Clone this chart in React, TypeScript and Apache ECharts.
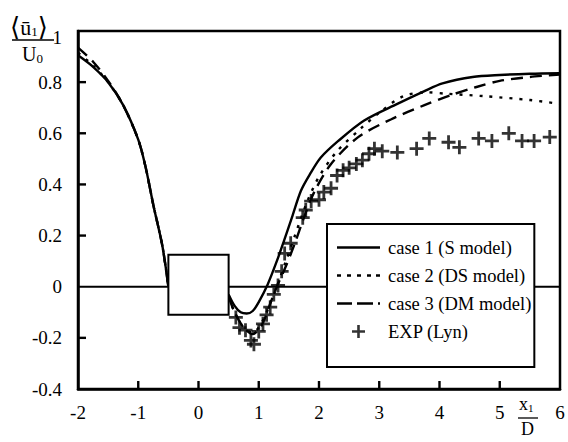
import React, { useEffect, useRef } from 'react';
import * as echarts from 'echarts';

const FONT = '"Liberation Serif", "DejaVu Serif", serif';

const seriesNames = ['case 1 (S model)', 'case 2 (DS model)', 'case 3 (DM model)', 'EXP (Lyn)'];

const xTicks = [-2, -1, 0, 1, 2, 3, 4, 5, 6];
const yTicks = [-0.4, -0.2, 0, 0.2, 0.4, 0.6, 0.8, 1];

// '-' marks the gap hidden behind the square cylinder
const case1: any[] = [
  [-2, 0.905], [-1.75, 0.86], [-1.5, 0.8], [-1.25, 0.71], [-1.0, 0.575], [-0.88, 0.47],
  [-0.75, 0.32], [-0.6, 0.16], [-0.5, 0.0], [0, '-'],
  [0.5, -0.03], [0.6, -0.075], [0.7, -0.1], [0.8, -0.105], [0.9, -0.095], [1.0, -0.06],
  [1.15, 0.01], [1.3, 0.1], [1.42, 0.18], [1.55, 0.27], [1.7, 0.375], [1.85, 0.44],
  [2.03, 0.505], [2.32, 0.57], [2.75, 0.65], [3.3, 0.715], [3.75, 0.765], [4.05, 0.795],
  [4.55, 0.82], [5.0, 0.828], [5.5, 0.833], [6.0, 0.835],
];

const case2: any[] = [
  [-2, 0.915], [-1.75, 0.865], [-1.5, 0.8], [-1.25, 0.71], [-1.0, 0.575], [-0.88, 0.47],
  [-0.75, 0.32], [-0.6, 0.16], [-0.5, 0.0], [0, '-'],
  [0.5, -0.04], [0.6, -0.1], [0.75, -0.16], [0.9, -0.18], [1.05, -0.14], [1.2, -0.06],
  [1.3, 0.0], [1.45, 0.1], [1.6, 0.2], [1.8, 0.33], [2.0, 0.43], [2.3, 0.53],
  [2.7, 0.62], [3.0, 0.68], [3.4, 0.745], [3.8, 0.76], [4.1, 0.755], [4.75, 0.745],
  [5.5, 0.73], [6.0, 0.715],
];

const case3: any[] = [
  [-2, 0.935], [-1.75, 0.88], [-1.5, 0.805], [-1.25, 0.71], [-1.0, 0.575], [-0.88, 0.47],
  [-0.75, 0.32], [-0.6, 0.16], [-0.5, 0.0], [0, '-'],
  [0.5, -0.04], [0.6, -0.1], [0.75, -0.16], [0.9, -0.185], [1.05, -0.15], [1.2, -0.06],
  [1.3, 0.0], [1.45, 0.08], [1.6, 0.17], [1.75, 0.27], [1.92, 0.37], [2.2, 0.48],
  [2.65, 0.585], [3.2, 0.655], [3.75, 0.71], [4.2, 0.75], [4.6, 0.78], [5.0, 0.805],
  [5.5, 0.82], [6.0, 0.83],
];

const expLyn: [number, number][] = [
  [0.62, -0.12], [0.68, -0.16], [0.78, -0.17], [0.87, -0.21], [0.92, -0.225], [1.0, -0.175],
  [1.07, -0.145], [1.13, -0.11], [1.19, -0.08], [1.25, -0.03], [1.32, 0.005], [1.38, 0.06],
  [1.43, 0.13], [1.53, 0.17], [1.73, 0.27], [1.78, 0.3], [1.87, 0.335], [2.0, 0.34],
  [2.08, 0.37], [2.2, 0.385], [2.3, 0.435], [2.4, 0.455], [2.5, 0.465], [2.62, 0.48],
  [2.72, 0.495], [2.83, 0.52], [2.92, 0.54], [3.05, 0.53], [3.3, 0.525], [3.62, 0.54],
  [3.83, 0.58], [4.15, 0.565], [4.33, 0.545], [4.65, 0.58], [4.87, 0.57], [5.15, 0.6],
  [5.37, 0.57], [5.57, 0.57], [5.83, 0.585],
];

// square cylinder: [x0, y0, x1, y1]
const cylinder: number[][] = [[-0.5, -0.11, 0.5, 0.125]];
const zeroLine: [number, number][] = [[-2, 0], [6, 0]];

const PLUS = 'path://M-1,-0.2H1V0.2H-1Z M-0.2,-1H0.2V1H-0.2Z';
const ICON_SOLID = 'path://M0,0H43V2.4H0Z';
const ICON_DOTTED = 'path://M0,0H4V2.4H0Z M10,0H14V2.4H10Z M20,0H24V2.4H20Z M30,0H34V2.4H30Z M39,0H43V2.4H39Z';
const ICON_DASHED = 'path://M0,0H15V2.4H0Z M20,0H36V2.4H20Z M41,0H43V2.4H41Z';

const TICK_LEN = 8;

export default function App() {
  const ref = useRef<HTMLDivElement>(null);

  useEffect(() => {
    if (!ref.current) return;
    const chart = echarts.init(ref.current, undefined, { renderer: 'svg' });
    const xMin = xTicks[0];
    const xMax = xTicks[xTicks.length - 1];
    const yMin = yTicks[0];
    const yMax = yTicks[yTicks.length - 1];
    // inner tick marks (excluding the frame corners and the zero line)
    const xTickData = xTicks.filter((v) => v !== xMin && v !== xMax).map((v) => [v, yMin]);
    const yTickData = yTicks
      .filter((v) => v !== yMin && v !== yMax && v !== 0)
      .map((v) => [xMin, v]);

    const lineBase = {
      type: 'line',
      smooth: 0.3,
      showSymbol: false,
      symbol: 'none',
      connectNulls: false,
      color: '#000',
      z: 2,
    };
    const option: any = {
      animation: false,
      backgroundColor: '#fff',
      grid: {
        left: 78, right: 8, top: 31, bottom: 53,
        show: true, borderColor: '#000', borderWidth: 2.5, backgroundColor: 'transparent',
      },
      xAxis: {
        type: 'value', min: xMin, max: xMax, interval: 1,
        axisLine: { show: true, onZero: false, lineStyle: { color: '#000', width: 2.5 } },
        splitLine: { show: false },
        axisTick: { show: false },
        axisLabel: {
          color: '#000', fontFamily: FONT, fontSize: 19, margin: 14,
          formatter: (v: number) => String(Math.round(v)),
        },
      },
      yAxis: {
        type: 'value', min: yMin, max: yMax, interval: 0.2,
        axisLine: { show: true, onZero: false, lineStyle: { color: '#000', width: 2.5 } },
        splitLine: { show: false },
        axisTick: { show: false },
        axisLabel: {
          color: '#000', fontFamily: FONT, fontSize: 19, margin: 16,
          formatter: (v: number) => {
            if (Math.abs(v - 1) < 1e-9) return '{one|1}';
            if (Math.abs(v) < 1e-9) return '0';
            return v.toFixed(1);
          },
          rich: { one: { fontFamily: FONT, fontSize: 19, color: '#000', padding: [12, 0, 0, 0] } },
        },
      },
      legend: {
        data: [
          { name: seriesNames[0], icon: ICON_SOLID },
          { name: seriesNames[1], icon: ICON_DOTTED },
          { name: seriesNames[2], icon: ICON_DASHED },
          { name: seriesNames[3], icon: PLUS },
        ],
        orient: 'vertical',
        left: 327, top: 224,
        padding: [14, 3, 26, 10],
        itemGap: 9,
        itemWidth: 43,
        itemHeight: 13,
        symbolKeepAspect: true,
        borderColor: '#000', borderWidth: 2, backgroundColor: '#fff',
        itemStyle: { color: '#000' },
        textStyle: { fontFamily: FONT, fontSize: 18.5, color: '#000', padding: [0, 0, 0, 3] },
      },
      graphic: [
        {
          type: 'text', left: 10, top: 14, z: 10,
          style: {
            text: '{a|⟨}{b|ū}{s|1}{a|⟩}',
            rich: {
              a: { fontFamily: FONT, fontSize: 26, fill: '#000' },
              b: { fontFamily: FONT, fontSize: 22, fill: '#000' },
              s: { fontFamily: FONT, fontSize: 13, fill: '#000', padding: [9, 0, 0, 0] },
            },
          },
        },
        { type: 'line', shape: { x1: 12, y1: 40, x2: 54, y2: 40 }, style: { stroke: '#000', lineWidth: 1.5 } },
        {
          type: 'text', left: 22, top: 44,
          style: {
            text: '{b|U}{s|0}',
            rich: {
              b: { fontFamily: FONT, fontSize: 20, fill: '#000' },
              s: { fontFamily: FONT, fontSize: 13, fill: '#000', padding: [8, 0, 0, 0] },
            },
          },
        },
        {
          type: 'text', left: 519, top: 395,
          style: {
            text: '{b|x}{s|1}',
            rich: {
              b: { fontFamily: FONT, fontSize: 18, fill: '#000' },
              s: { fontFamily: FONT, fontSize: 11, fill: '#000', padding: [7, 0, 0, 0] },
            },
          },
        },
        { type: 'line', shape: { x1: 518, y1: 418, x2: 538, y2: 418 }, style: { stroke: '#000', lineWidth: 1.3 } },
        {
          type: 'text', left: 521, top: 420,
          style: { text: 'D', fontFamily: FONT, fontSize: 18, fill: '#000' },
        },
      ],
      series: [
        {
          name: 'zero', type: 'line', data: zeroLine, showSymbol: false, symbol: 'none',
          lineStyle: { color: '#000', width: 2 }, silent: true, z: 1,
        },
        { ...lineBase, name: seriesNames[0], data: case1, lineStyle: { color: '#000', width: 2.4, type: 'solid' } },
        { ...lineBase, name: seriesNames[1], data: case2, lineStyle: { color: '#000', width: 2.4, type: [3, 7] } },
        { ...lineBase, name: seriesNames[2], data: case3, lineStyle: { color: '#000', width: 2.4, type: [12, 7] } },
        {
          name: seriesNames[3], type: 'scatter', data: expLyn, symbol: PLUS, symbolSize: 14,
          itemStyle: { color: '#000' }, z: 3,
        },
        {
          name: 'cylinder', type: 'custom', data: cylinder, z: 5, silent: true,
          encode: { x: [0, 2], y: [1, 3] },
          renderItem: (params: any, api: any) => {
            const p0 = api.coord([api.value(0), api.value(3)]);
            const p1 = api.coord([api.value(2), api.value(1)]);
            return {
              type: 'rect',
              shape: { x: p0[0], y: p0[1], width: p1[0] - p0[0], height: p1[1] - p0[1] },
              style: { fill: '#fff', stroke: '#000', lineWidth: 2 },
            };
          },
        },
        {
          name: 'xTicks', type: 'custom', data: xTickData, z: 6, silent: true, clip: false,
          encode: { x: 0, y: 1 },
          renderItem: (params: any, api: any) => {
            const p = api.coord([api.value(0), api.value(1)]);
            return {
              type: 'rect',
              shape: { x: p[0] - 1.2, y: p[1] - TICK_LEN, width: 2.4, height: TICK_LEN },
              style: { fill: '#000' },
            };
          },
        },
        {
          name: 'yTicks', type: 'custom', data: yTickData, z: 6, silent: true, clip: false,
          encode: { x: 0, y: 1 },
          renderItem: (params: any, api: any) => {
            const p = api.coord([api.value(0), api.value(1)]);
            return {
              type: 'rect',
              shape: { x: p[0], y: p[1] - 1.2, width: TICK_LEN, height: 2.4 },
              style: { fill: '#000' },
            };
          },
        },
      ],
    };
    chart.setOption(option);
    return () => chart.dispose();
  }, []);

  return (
    <div
      ref={ref}
      style={{ position: 'fixed', left: 0, top: 0, width: 568, height: 442, background: '#fff' }}
    />
  );
}
